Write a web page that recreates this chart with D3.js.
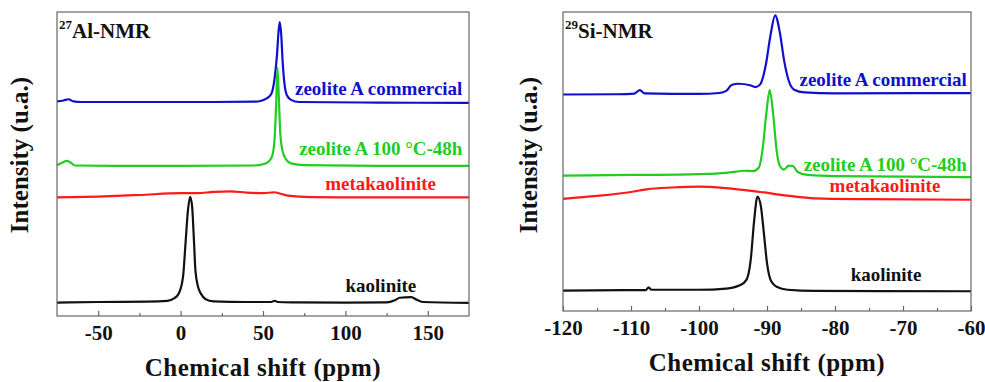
<!DOCTYPE html>
<html>
<head>
<meta charset="utf-8">
<script src="https://cdn.jsdelivr.net/npm/d3@7"></script>
<style>
  body { margin: 0; background: #fff; }
  text { font-family: "Liberation Serif", "Times New Roman", serif; font-weight: bold; }
</style>
</head>
<body>
<div id="chart"></div>
<script>
// 27Al spectra: [ppm, intensity a.u.]
var alCommercial = [[-75,70.6],[-71,70.9],[-68,71.3],[-65,70.6],[-60,70.4],[-20,70.4],[20,70.4],[45,70.5],[49,70.8],[52,71.5],[55,73],[57,78],[58.5,86],[59.5,94],[60.2,96.7],[61,93],[62,83],[63,76.5],[64.5,72.6],[67,71.1],[72,70.4],[120,70.2],[175,70.1]];
var alZeolite = [[-75,49.6],[-72,50.4],[-69,51.0],[-67,50.6],[-64,49.5],[-40,49.4],[0,49.4],[45,49.5],[50,49.9],[53,50.6],[55.5,52.5],[57,58],[58,70],[58.8,81.6],[59.6,72],[60.5,60],[62,54],[64,51.5],[67,50.2],[75,49.6],[120,49.4],[175,49.4]];
var alMeta = [[-75,39],[-50,39.3],[-25,39.8],[0,40.4],[10,40.4],[20,40.8],[30,41.0],[40,40.6],[50,40.4],[57,40.7],[60,40.3],[65,39.6],[80,39.1],[100,39.0],[175,39.0]];
var alKaolinite = [[-75,4.4],[-50,4.6],[-20,4.7],[-8,5.0],[-4,5.8],[-1,7.5],[1.5,13],[3,24],[4.5,35],[5.8,39.2],[7,36],[8,26],[9,15],[10.5,9.8],[12.5,7.2],[15,5.6],[20,4.8],[40,4.6],[55,4.6],[57,5.0],[59,4.6],[70,4.5],[100,4.4],[125,4.5],[130,5.2],[133,6.0],[140,6.2],[143,5.4],[147,4.6],[175,4.3]];

// 29Si spectra
var siCommercial = [[-120,72.4],[-112,72.5],[-109.5,72.7],[-108.7,73.9],[-108,72.8],[-100,72.6],[-97,72.9],[-96,73.6],[-95.2,75.6],[-94.2,76.0],[-92.5,75.5],[-91.7,74.9],[-91,75.8],[-90.2,82],[-89.5,92],[-88.8,98.9],[-88.1,93],[-87.5,84],[-86.8,77],[-86,74],[-84.5,73.1],[-80,72.8],[-60,72.9]];
var siZeolite = [[-120,45.3],[-110,45.5],[-100,45.8],[-96,46.2],[-94.5,46.6],[-93.5,46.9],[-92,46.8],[-91.2,48],[-90.6,55],[-90.1,66],[-89.6,73.9],[-89.1,66],[-88.6,54],[-88.1,48.5],[-87.5,47.3],[-86.8,48.6],[-86.2,48.5],[-85.5,46.5],[-84,45.5],[-80,45.1],[-60,44.8]];
var siMeta = [[-120,37.5],[-115,38.5],[-110,39.8],[-107.7,40.7],[-104,41.3],[-100,41.6],[-96,41.1],[-91,39.8],[-87,38.6],[-83,37.7],[-75,37.4],[-60,37.2]];
var siKaolinite = [[-120,6.8],[-110,7.0],[-107.8,7.0],[-107.4,7.9],[-107,7.1],[-100,7.1],[-96,7.5],[-94,8.6],[-93,10.5],[-92.4,17],[-91.9,30],[-91.4,38.3],[-90.9,35],[-90.5,27],[-90,16],[-89.4,10],[-88.5,8],[-87,7.1],[-83,6.7],[-60,6.6]];

var seriesNames = ["zeolite A commercial", "zeolite A 100 \u00B0C-48h", "metakaolinite", "kaolinite"];
var seriesColors = ["#1010cc", "#22cc22", "#ff1a1a", "#111111"];

var alTicks = [-50, 0, 50, 100, 150];
var alMinor = [-25, 25, 75, 125];
var siTicks = [-120, -110, -100, -90, -80, -70, -60];
var siMinor = [-115, -105, -95, -85, -75, -65];

var serif = "'Liberation Serif', 'Times New Roman', serif";

var svg = d3.select("#chart").append("svg")
  .attr("width", 985)
  .attr("height", 382);

var panels = [
  { left: 57, right: 469, top: 12, bottom: 316, domain: [-75, 175], ticks: alTicks, minor: alMinor,
    data: [alCommercial, alZeolite, alMeta, alKaolinite], sup: "27", nucleus: "Al-NMR",
    // label anchors: [ppm, intensity] at right end of each label
    labels: [[171, 72.7], [171, 53], [155, 41.4], [143, 7.8]], ylabX: 28 },
  { left: 563, right: 971, top: 12, bottom: 311, domain: [-120, -60], ticks: siTicks, minor: siMinor,
    data: [siCommercial, siZeolite, siMeta, siKaolinite], sup: "29", nucleus: "Si-NMR",
    labels: [[-60.6, 75.2], [-60.6, 46.8], [-64.5, 39.8], [-67.3, 10]], ylabX: 537 }
];

panels.forEach(function (p) {
  var x = d3.scaleLinear().domain(p.domain).range([p.left, p.right]);
  var y = d3.scaleLinear().domain([0, 100]).range([p.bottom, p.top]);

  var line = d3.line()
    .x(function (d) { return x(d[0]); })
    .y(function (d) { return y(d[1]); })
    .curve(d3.curveMonotoneX);

  p.data.forEach(function (s, i) {
    svg.append("path")
      .datum(s)
      .attr("d", line)
      .attr("fill", "none")
      .attr("stroke", seriesColors[i])
      .attr("stroke-width", 2.2)
      .attr("stroke-linejoin", "round");

    svg.append("text")
      .attr("x", x(p.labels[i][0]))
      .attr("y", y(p.labels[i][1]))
      .attr("text-anchor", "end")
      .attr("fill", seriesColors[i])
      .style("font-size", "19px")
      .text(seriesNames[i]);
  });

  // frame
  svg.append("rect")
    .attr("x", p.left).attr("y", p.top)
    .attr("width", p.right - p.left).attr("height", p.bottom - p.top)
    .attr("fill", "none").attr("stroke", "#666").attr("stroke-width", 1.2);

  // major ticks pointing inward
  var ax = svg.append("g")
    .attr("transform", "translate(0," + p.bottom + ")")
    .call(d3.axisBottom(x).tickValues(p.ticks).tickSize(-5).tickPadding(9).tickSizeOuter(0)
      .tickFormat(function (d) { return String(d); }))
    .attr("font-family", serif)
    .attr("font-weight", "bold")
    .attr("font-size", 21);
  ax.select(".domain").remove();
  ax.selectAll("line").attr("stroke", "#666").attr("stroke-width", 1.2);
  ax.selectAll("text").attr("fill", "#111");

  // minor ticks
  var mx = svg.append("g")
    .attr("transform", "translate(0," + p.bottom + ")")
    .call(d3.axisBottom(x).tickValues(p.minor).tickSize(-3).tickFormat(""));
  mx.select(".domain").remove();
  mx.selectAll("line").attr("stroke", "#666").attr("stroke-width", 1.2);

  // axis titles
  svg.append("text")
    .attr("x", (p.left + p.right) / 2)
    .attr("y", p.bottom + 60)
    .attr("text-anchor", "middle")
    .attr("fill", "#111")
    .style("font-size", "25px")
    .style("letter-spacing", "0.5px")
    .text("Chemical shift (ppm)");

  svg.append("text")
    .attr("transform", "translate(" + p.ylabX + "," + 155 + ") rotate(-90)")
    .attr("text-anchor", "middle")
    .attr("fill", "#111")
    .style("font-size", "25px")
    .text("Intensity (u.a.)");

  // panel title with superscript mass number
  var t = svg.append("text")
    .attr("x", p.left + 2)
    .attr("y", p.top + 26)
    .attr("fill", "#111")
    .style("font-size", "21px");
  t.append("tspan").attr("dy", -9).style("font-size", "13px").text(p.sup);
  t.append("tspan").attr("dy", 9).text(p.nucleus);
});
</script>
</body>
</html>
